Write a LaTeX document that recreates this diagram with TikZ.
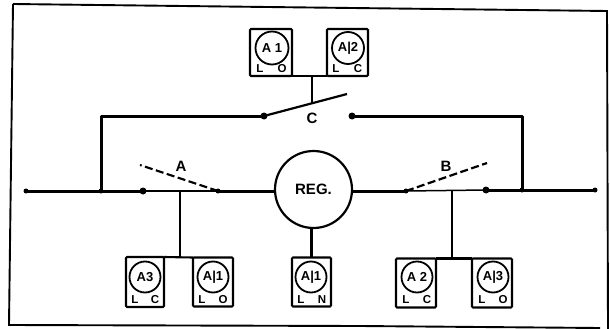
\documentclass[tikz,border=0pt]{standalone}
\usepackage{fontspec}
\setmainfont{Liberation Sans}
\tikzset{
  x=1pt,y=-1pt,
  frameline/.style={line width=1.9pt},
  busline/.style={line width=3pt},
  thinbus/.style={line width=1.5pt},
  stemline/.style={line width=2.1pt},
  dashline/.style={line width=2.2pt,dash pattern=on 8pt off 3.5pt},
  blade/.style={line width=2.2pt},
  jdot/.style={circle,fill=black,inner sep=0pt,outer sep=0pt,minimum size=5pt},
  cdot/.style={circle,fill=black,inner sep=0pt,outer sep=0pt,minimum size=7pt},
  meterbox/.style={draw,line width=2.1pt,rounded corners=1pt,inner sep=0pt,outer sep=0pt,minimum width=40pt,minimum height=49pt},
  dial/.style={draw,circle,line width=1.8pt,inner sep=0pt,minimum size=31pt,font=\bfseries\fontsize{13}{13}\selectfont},
  small/.style={inner sep=0pt,font=\bfseries\fontsize{11.5}{11.5}\selectfont},
  letter/.style={inner sep=0pt,font=\bfseries\fontsize{15}{15}\selectfont},
}
\begin{document}
\begin{tikzpicture}
\useasboundingbox (0,0) rectangle (610,329);
\draw[frameline] (13,4) -- (607,11) -- (608,329);
\draw[frameline] (13,4) -- (9,325) -- (360,326) -- (600,328);
% top meters
\node[meterbox,minimum width=42pt,minimum height=47pt] (b1) at (271,52.5) {};
\node[meterbox,minimum width=41pt,minimum height=47pt] (b2) at (347.5,52.5) {};
\node[dial,minimum size=33pt] (d1) at (272,48) {A 1};
\node[dial,minimum size=32pt] (d2) at (348,48) {A|2};
\node[small] at (260,69) {L}; \node[small] at (282,69) {O};
\node[small] at (336,69) {L}; \node[small] at (358,69) {C};
% regulator
\node[draw,circle,line width=2.2pt,outer sep=0pt,minimum size=77pt,inner sep=0pt,font=\bfseries\fontsize{15}{15}\selectfont] (reg) at (313.5,189.5) {REG.};
% bottom meters
\node[meterbox,minimum width=38pt,minimum height=50pt] (b3) at (145,282) {};
\node[meterbox] (b4) at (213,282) {};
\node[meterbox,minimum width=39pt] (b5) at (311.5,282) {};
\node[meterbox] (b6) at (416,283) {};
\node[meterbox] (b7) at (492,283) {};
\node[dial] (d3) at (145,277) {A3};
\node[dial] (d4) at (213,277) {A|1};
\node[dial] (d5) at (311,277) {A|1};
\node[dial] (d6) at (417,277) {A 2};
\node[dial] (d7) at (493,277) {A|3};
\node[small] at (135,300) {L}; \node[small] at (155,300) {C};
\node[small] at (202,300) {L}; \node[small] at (223,300) {O};
\node[small] at (301,300) {L}; \node[small] at (322,300) {N};
\node[small] at (406,300) {L}; \node[small] at (427,300) {C};
\node[small] at (482,300) {L}; \node[small] at (503,300) {O};
% junctions and contacts
\node[jdot] (lend) at (26,191) {};
\node[jdot] (j1) at (101,191) {};
\node[cdot] (a1) at (143,191) {};
\node[jdot] (a2) at (218,191) {};
\node[jdot] (b2c) at (406,191) {};
\node[cdot] (b3c) at (486,190) {};
\node[jdot] (j2) at (522,190) {};
\node[jdot] (rend) at (595,190) {};
\node[cdot] (c1) at (264,116) {};
\node[cdot] (c2) at (352,116) {};
\coordinate (ctip) at (347,94);
\coordinate (atip) at (140,165);
\coordinate (btip) at (487,163);
\coordinate (cstem) at (312,102.5);
\coordinate (astem) at (180,191);
\coordinate (bstem) at (452,190);
% bus
\draw[busline] (lend.center) -- (a1.center);
\draw[thinbus] (a1.center) -- (a2.center);
\draw[busline] (a2.center) -- (reg.west |- a2.center);
\draw[busline] (reg.east |- b2c.center) -- (b2c.center);
\draw[thinbus] (b2c.center) -- (b3c.center);
\draw[busline] (b3c.center) -- (rend.center);
% tie line
\draw[busline,line join=round] (j1.center) |- (c1.center);
\draw[busline,line join=round] (c2.center) -| (j2.center);
% switches
\draw[blade] (c1.center) -- (ctip);
\draw[dashline] (a2.center) -- (atip);
\draw[dashline] (b2c.center) -- (btip);
\node[letter] at (312,118) {C};
\node[letter] at (181,166) {A};
\node[letter] at (446,166) {B};
% meter connections
\draw[stemline] (b1.south east) -- (b2.south west);
\draw[stemline] (cstem) -- (cstem |- b1.south);
\draw[stemline] (astem) -- (astem |- b3.north);
\draw[stemline] (b3.north east) -- (b4.north west);
\draw[stemline] (b5.north |- reg.south) -- (b5.north);
\draw[stemline] (bstem) -- (bstem |- b6.north);
\draw[stemline] (b6.north east) -- (b7.north west);
\end{tikzpicture}
\end{document}
